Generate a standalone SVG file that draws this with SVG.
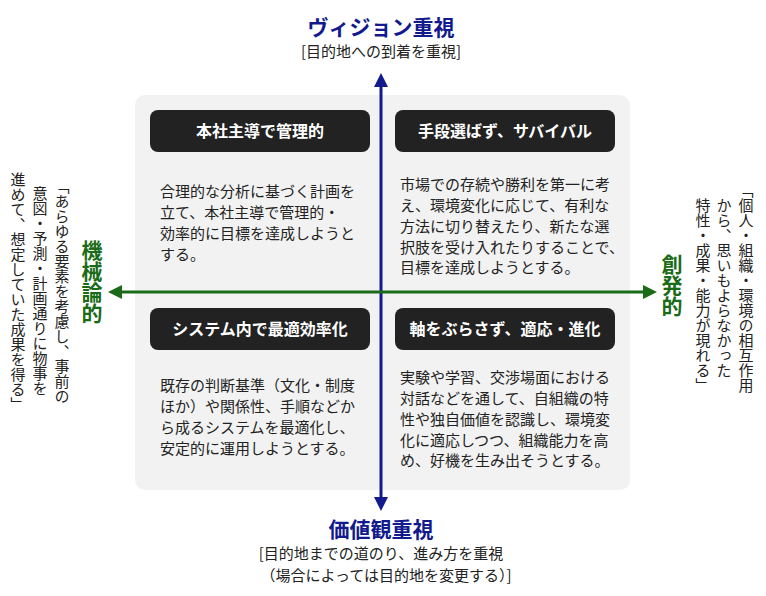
<svg xmlns="http://www.w3.org/2000/svg" width="766" height="596" viewBox="0 0 766 596">
<style>
text{font-family:"Noto Sans CJK JP","Noto Sans",sans-serif;fill:#222}
.b{font-size:15px}
.h{font-size:16px;font-weight:bold;fill:#fff;text-anchor:middle}
.v{font-size:15px;writing-mode:vertical-rl}
.t{font-weight:bold;font-size:21px;text-anchor:middle}
.s{font-size:15px;text-anchor:middle}
.hd{fill:#222}
</style>
<defs>
<marker id="ab" viewBox="0 0 10 10" refX="5" refY="5" markerWidth="14" markerHeight="14" markerUnits="userSpaceOnUse" orient="auto-start-reverse"><path d="M0,0L10,5L0,10z" fill="#121a8e"/></marker>
<marker id="ag" viewBox="0 0 10 10" refX="5" refY="5" markerWidth="14" markerHeight="14" markerUnits="userSpaceOnUse" orient="auto-start-reverse"><path d="M0,0L10,5L0,10z" fill="#1a6b17"/></marker>
</defs>
<rect x="135" y="95" width="495" height="395" rx="10" fill="#f2f2f2"/>
<g id="connectors">
<line x1="381" y1="80" x2="381" y2="504" stroke="#121a8e" stroke-width="3" marker-start="url(#ab)" marker-end="url(#ab)"/>
<line x1="115" y1="292" x2="650" y2="292" stroke="#1a6b17" stroke-width="3" marker-start="url(#ag)" marker-end="url(#ag)"/>
</g>
<g id="top"><text class="t" x="381" y="35" style="fill:#121a8e">ヴィジョン重視</text><text class="s" x="381" y="57">[目的地への到着を重視]</text></g>
<g id="bottom"><text class="t" x="381" y="537" style="fill:#121a8e">価値観重視</text><text class="s" x="381" y="559">[目的地までの道のり、進み方を重視</text><text class="s" x="386" y="581">（場合によっては目的地を変更する）]</text></g>
<g id="left">
<text class="v" x="92" y="240" style="font-size:21px;font-weight:bold;fill:#1a6b17">機械論的</text>
<text class="v" x="62" y="179">「あらゆる要素を考慮し、事前の</text>
<text class="v" x="40" y="186">意図・予測・計画通りに物事を</text>
<text class="v" x="18" y="172">進めて、想定していた成果を得る」</text>
</g>
<g id="right">
<text class="v" x="672" y="254" style="font-size:21px;font-weight:bold;fill:#1a6b17">創発的</text>
<text class="v" x="746" y="183">「個人・組織・環境の相互作用</text>
<text class="v" x="724" y="198">から、思いもよらなかった</text>
<text class="v" x="703" y="198">特性・成果・能力が現れる」</text>
</g>
<g id="q1"><rect class="hd" x="150" y="110" width="220" height="42" rx="8"/><text class="h" x="260" y="137">本社主導で管理的</text>
<text class="b" x="160" y="197">合理的な分析に基づく計画を</text><text class="b" x="160" y="218">立て、本社主導で管理的・</text><text class="b" x="160" y="239">効率的に目標を達成しようと</text><text class="b" x="160" y="260">する。</text></g>
<g id="q2"><rect class="hd" x="395" y="110" width="220" height="42" rx="8"/><text class="h" x="505" y="137">手段選ばず、サバイバル</text>
<text class="b" x="400" y="190">市場での存続や勝利を第一に考</text><text class="b" x="400" y="211">え、環境変化に応じて、有利な</text><text class="b" x="400" y="232">方法に切り替えたり、新たな選</text><text class="b" x="400" y="253">択肢を受け入れたりすることで、</text><text class="b" x="400" y="273">目標を達成しようとする。</text></g>
<g id="q3"><rect class="hd" x="150" y="308" width="220" height="42" rx="8"/><text class="h" x="260" y="335">システム内で最適効率化</text>
<text class="b" x="160" y="391">既存の判断基準（文化・制度</text><text class="b" x="160" y="412">ほか）や関係性、手順などか</text><text class="b" x="160" y="433">ら成るシステムを最適化し、</text><text class="b" x="160" y="454">安定的に運用しようとする。</text></g>
<g id="q4"><rect class="hd" x="395" y="308" width="220" height="42" rx="8"/><text class="h" x="505" y="335">軸をぶらさず、適応・進化</text>
<text class="b" x="400" y="383">実験や学習、交渉場面における</text><text class="b" x="400" y="404">対話などを通して、自組織の特</text><text class="b" x="400" y="425">性や独自価値を認識し、環境変</text><text class="b" x="400" y="446">化に適応しつつ、組織能力を高</text><text class="b" x="400" y="466">め、好機を生み出そうとする。</text></g>
</svg>
